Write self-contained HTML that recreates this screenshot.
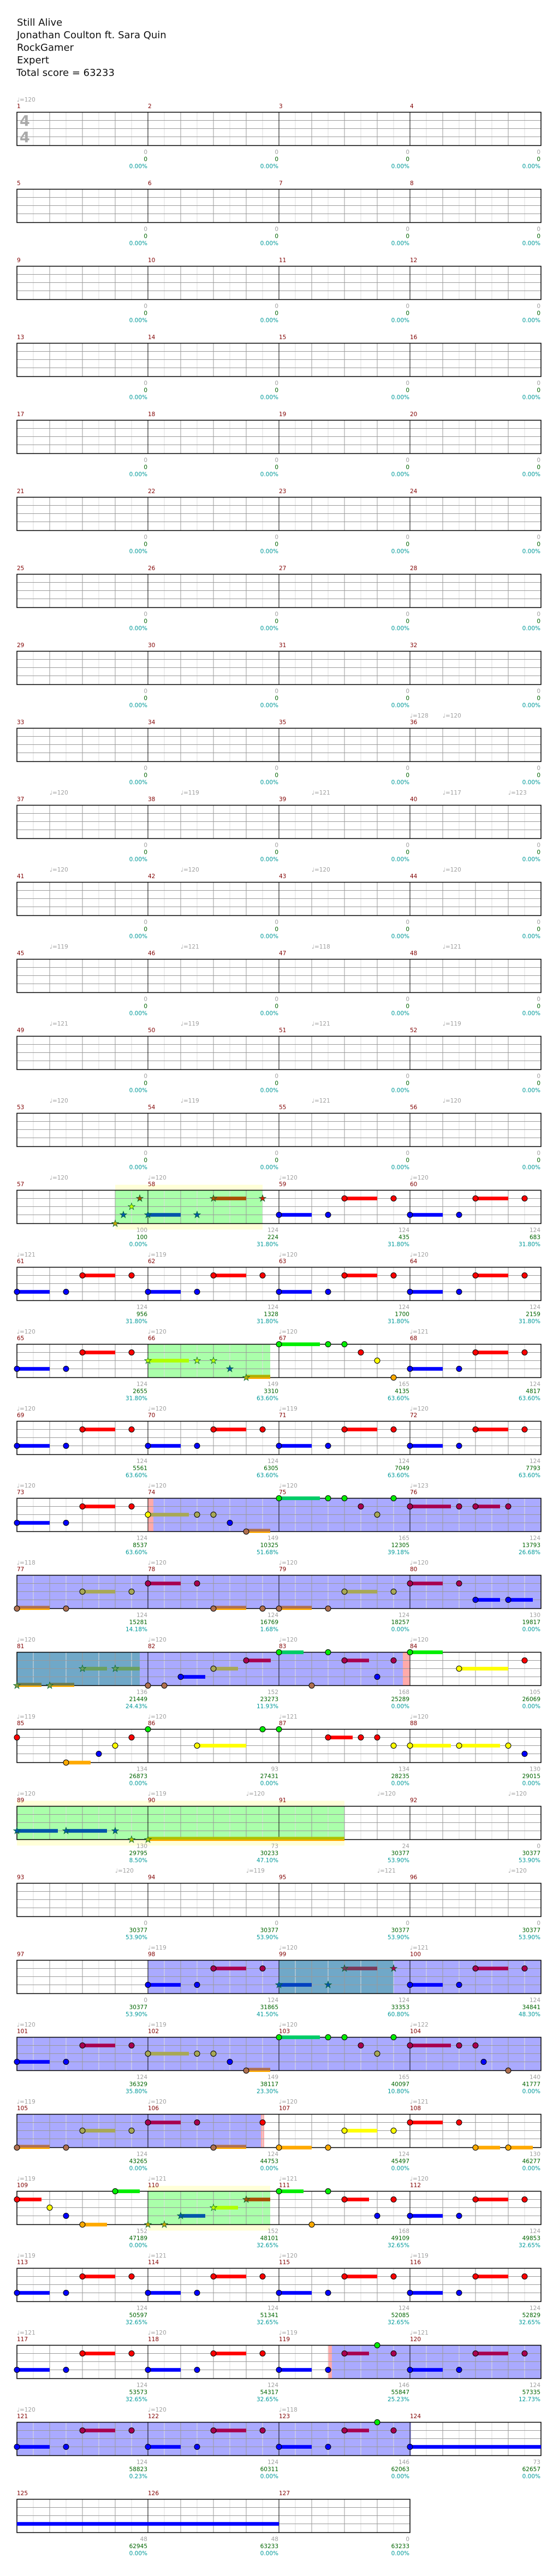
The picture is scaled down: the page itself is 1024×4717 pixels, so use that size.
<!DOCTYPE html>
<html><head><meta charset="utf-8"><style>
html,body{margin:0;padding:0;background:#fff}
svg{display:block}
text{font-family:"DejaVu Sans","Liberation Sans",sans-serif;font-size:10.5px}
.h{font-size:18px;fill:#111}
.t{fill:#a0a0a0}
.m{fill:#800000}
.n{fill:#a0a0a0;text-anchor:end}
.s{fill:#006400}
.p{fill:#009999}
circle{stroke:#000;stroke-width:1}
.R{fill:#f00}.B{fill:#00f}.G{fill:#0e0}.Y{fill:#ff0}.O{fill:#fa0}
.r{fill:#a8004f}.y{fill:#a8a855}.o{fill:#b07050}
.st{stroke:#063;stroke-width:.8}
</style></head><body>
<svg xmlns="http://www.w3.org/2000/svg" xmlns:xlink="http://www.w3.org/1999/xlink" width="1024" height="4717" viewBox="0 0 1024 4717">
<defs>
<path id="st" d="M0,-6.5L1.53,-2.1L6.18,-2.01L2.47,0.8L3.82,5.26L0,2.6L-3.82,5.26L-2.47,0.8L-6.18,-2.01L-1.53,-2.1Z"/>
<g id="grid">
<path d="M61 0V61M121 0V61M181 0V61M241 0V61M301 0V61M361 0V61M421 0V61M481 0V61M541 0V61M601 0V61M661 0V61M721 0V61M781 0V61M841 0V61M901 0V61M961 0V61" stroke="#ddd" stroke-width="1"/>
<path d="M91 0V61M151 0V61M211 0V61M331 0V61M391 0V61M451 0V61M571 0V61M631 0V61M691 0V61M811 0V61M871 0V61M931 0V61M31 15H991M31 30H991M31 45H991" stroke="#999" stroke-width="1"/>
<path d="M271 0V61M511 0V61M751 0V61" stroke="#000" stroke-width="1"/>
<rect x="31" y="0" width="960" height="61" fill="none" stroke="#000" stroke-width="1.5"/>
</g>
<g id="grid3">
<path d="M61 0V61M121 0V61M181 0V61M241 0V61M301 0V61M361 0V61M421 0V61M481 0V61M541 0V61M601 0V61M661 0V61M721 0V61" stroke="#ddd" stroke-width="1"/>
<path d="M91 0V61M151 0V61M211 0V61M331 0V61M391 0V61M451 0V61M571 0V61M631 0V61M691 0V61M31 15H751M31 30H751M31 45H751" stroke="#999" stroke-width="1"/>
<path d="M271 0V61M511 0V61" stroke="#000" stroke-width="1"/>
<rect x="31" y="0" width="720" height="61" fill="none" stroke="#000" stroke-width="1.5"/>
</g>
<g id="P"><rect x="120" y="11.7" width="60" height="6.7" fill="#f00"/><rect x="0" y="41.7" width="60" height="6.7" fill="#00f"/><circle cx="120" cy="15" r="5" class="R"/><circle cx="210" cy="15" r="5" class="R"/><circle cx="0" cy="45" r="5" class="B"/><circle cx="90" cy="45" r="5" class="B"/></g>
<g id="PO"><rect x="120" y="11.7" width="60" height="6.7" fill="#a8004f"/><rect x="0" y="41.7" width="60" height="6.7" fill="#00f"/><circle cx="120" cy="15" r="5" class="r"/><circle cx="210" cy="15" r="5" class="r"/><circle cx="0" cy="45" r="5" class="B"/><circle cx="90" cy="45" r="5" class="B"/></g>
</defs>

<text class="h" x="31" y="47">Still Alive</text>
<text class="h" x="31" y="70">Jonathan Coulton ft. Sara Quin</text>
<text class="h" x="31" y="93">RockGamer</text>
<text class="h" x="31" y="116">Expert</text>
<text class="h" x="30" y="139">Total score = 63233</text>

<!-- Row 1 -->
<g transform="translate(0,205.5)"><use xlink:href="#grid"/>
<text x="36" y="25" style="font-size:27px;font-weight:bold;fill:#aaa">4</text><text x="36" y="55" style="font-size:27px;font-weight:bold;fill:#aaa">4</text>
<text class="t" x="31" y="-19.5">♩=120</text>
<text class="m" x="31" y="-7.5">1</text><text class="m" x="271" y="-7.5">2</text><text class="m" x="511" y="-7.5">3</text><text class="m" x="751" y="-7.5">4</text>
<text class="n" x="270" y="76.5">0<tspan class="s" x="270" y="89.5">0</tspan><tspan class="p" x="270" y="102.5">0.00%</tspan></text>
<text class="n" x="510" y="76.5">0<tspan class="s" x="510" y="89.5">0</tspan><tspan class="p" x="510" y="102.5">0.00%</tspan></text>
<text class="n" x="750" y="76.5">0<tspan class="s" x="750" y="89.5">0</tspan><tspan class="p" x="750" y="102.5">0.00%</tspan></text>
<text class="n" x="990" y="76.5">0<tspan class="s" x="990" y="89.5">0</tspan><tspan class="p" x="990" y="102.5">0.00%</tspan></text>
</g>

<!-- Rows 2-8 empty -->
<g transform="translate(0,346.5)"><use xlink:href="#grid"/>
<text class="m" x="31" y="-7.5">5</text><text class="m" x="271" y="-7.5">6</text><text class="m" x="511" y="-7.5">7</text><text class="m" x="751" y="-7.5">8</text>
<text class="n" x="270" y="76.5">0<tspan class="s" x="270" y="89.5">0</tspan><tspan class="p" x="270" y="102.5">0.00%</tspan></text>
<text class="n" x="510" y="76.5">0<tspan class="s" x="510" y="89.5">0</tspan><tspan class="p" x="510" y="102.5">0.00%</tspan></text>
<text class="n" x="750" y="76.5">0<tspan class="s" x="750" y="89.5">0</tspan><tspan class="p" x="750" y="102.5">0.00%</tspan></text>
<text class="n" x="990" y="76.5">0<tspan class="s" x="990" y="89.5">0</tspan><tspan class="p" x="990" y="102.5">0.00%</tspan></text>
</g>
<g transform="translate(0,487.5)"><use xlink:href="#grid"/>
<text class="m" x="31" y="-7.5">9</text><text class="m" x="271" y="-7.5">10</text><text class="m" x="511" y="-7.5">11</text><text class="m" x="751" y="-7.5">12</text>
<text class="n" x="270" y="76.5">0<tspan class="s" x="270" y="89.5">0</tspan><tspan class="p" x="270" y="102.5">0.00%</tspan></text>
<text class="n" x="510" y="76.5">0<tspan class="s" x="510" y="89.5">0</tspan><tspan class="p" x="510" y="102.5">0.00%</tspan></text>
<text class="n" x="750" y="76.5">0<tspan class="s" x="750" y="89.5">0</tspan><tspan class="p" x="750" y="102.5">0.00%</tspan></text>
<text class="n" x="990" y="76.5">0<tspan class="s" x="990" y="89.5">0</tspan><tspan class="p" x="990" y="102.5">0.00%</tspan></text>
</g>
<g transform="translate(0,628.5)"><use xlink:href="#grid"/>
<text class="m" x="31" y="-7.5">13</text><text class="m" x="271" y="-7.5">14</text><text class="m" x="511" y="-7.5">15</text><text class="m" x="751" y="-7.5">16</text>
<text class="n" x="270" y="76.5">0<tspan class="s" x="270" y="89.5">0</tspan><tspan class="p" x="270" y="102.5">0.00%</tspan></text>
<text class="n" x="510" y="76.5">0<tspan class="s" x="510" y="89.5">0</tspan><tspan class="p" x="510" y="102.5">0.00%</tspan></text>
<text class="n" x="750" y="76.5">0<tspan class="s" x="750" y="89.5">0</tspan><tspan class="p" x="750" y="102.5">0.00%</tspan></text>
<text class="n" x="990" y="76.5">0<tspan class="s" x="990" y="89.5">0</tspan><tspan class="p" x="990" y="102.5">0.00%</tspan></text>
</g>
<g transform="translate(0,769.5)"><use xlink:href="#grid"/>
<text class="m" x="31" y="-7.5">17</text><text class="m" x="271" y="-7.5">18</text><text class="m" x="511" y="-7.5">19</text><text class="m" x="751" y="-7.5">20</text>
<text class="n" x="270" y="76.5">0<tspan class="s" x="270" y="89.5">0</tspan><tspan class="p" x="270" y="102.5">0.00%</tspan></text>
<text class="n" x="510" y="76.5">0<tspan class="s" x="510" y="89.5">0</tspan><tspan class="p" x="510" y="102.5">0.00%</tspan></text>
<text class="n" x="750" y="76.5">0<tspan class="s" x="750" y="89.5">0</tspan><tspan class="p" x="750" y="102.5">0.00%</tspan></text>
<text class="n" x="990" y="76.5">0<tspan class="s" x="990" y="89.5">0</tspan><tspan class="p" x="990" y="102.5">0.00%</tspan></text>
</g>
<g transform="translate(0,910.5)"><use xlink:href="#grid"/>
<text class="m" x="31" y="-7.5">21</text><text class="m" x="271" y="-7.5">22</text><text class="m" x="511" y="-7.5">23</text><text class="m" x="751" y="-7.5">24</text>
<text class="n" x="270" y="76.5">0<tspan class="s" x="270" y="89.5">0</tspan><tspan class="p" x="270" y="102.5">0.00%</tspan></text>
<text class="n" x="510" y="76.5">0<tspan class="s" x="510" y="89.5">0</tspan><tspan class="p" x="510" y="102.5">0.00%</tspan></text>
<text class="n" x="750" y="76.5">0<tspan class="s" x="750" y="89.5">0</tspan><tspan class="p" x="750" y="102.5">0.00%</tspan></text>
<text class="n" x="990" y="76.5">0<tspan class="s" x="990" y="89.5">0</tspan><tspan class="p" x="990" y="102.5">0.00%</tspan></text>
</g>
<g transform="translate(0,1051.5)"><use xlink:href="#grid"/>
<text class="m" x="31" y="-7.5">25</text><text class="m" x="271" y="-7.5">26</text><text class="m" x="511" y="-7.5">27</text><text class="m" x="751" y="-7.5">28</text>
<text class="n" x="270" y="76.5">0<tspan class="s" x="270" y="89.5">0</tspan><tspan class="p" x="270" y="102.5">0.00%</tspan></text>
<text class="n" x="510" y="76.5">0<tspan class="s" x="510" y="89.5">0</tspan><tspan class="p" x="510" y="102.5">0.00%</tspan></text>
<text class="n" x="750" y="76.5">0<tspan class="s" x="750" y="89.5">0</tspan><tspan class="p" x="750" y="102.5">0.00%</tspan></text>
<text class="n" x="990" y="76.5">0<tspan class="s" x="990" y="89.5">0</tspan><tspan class="p" x="990" y="102.5">0.00%</tspan></text>
</g>
<g transform="translate(0,1192.5)"><use xlink:href="#grid"/>
<text class="m" x="31" y="-7.5">29</text><text class="m" x="271" y="-7.5">30</text><text class="m" x="511" y="-7.5">31</text><text class="m" x="751" y="-7.5">32</text>
<text class="n" x="270" y="76.5">0<tspan class="s" x="270" y="89.5">0</tspan><tspan class="p" x="270" y="102.5">0.00%</tspan></text>
<text class="n" x="510" y="76.5">0<tspan class="s" x="510" y="89.5">0</tspan><tspan class="p" x="510" y="102.5">0.00%</tspan></text>
<text class="n" x="750" y="76.5">0<tspan class="s" x="750" y="89.5">0</tspan><tspan class="p" x="750" y="102.5">0.00%</tspan></text>
<text class="n" x="990" y="76.5">0<tspan class="s" x="990" y="89.5">0</tspan><tspan class="p" x="990" y="102.5">0.00%</tspan></text>
</g>
<g transform="translate(0,1333.5)"><use xlink:href="#grid"/>
<text class="t" x="751" y="-19.5">♩=128</text><text class="t" x="811" y="-19.5">♩=120</text>
<text class="m" x="31" y="-7.5">33</text><text class="m" x="271" y="-7.5">34</text><text class="m" x="511" y="-7.5">35</text><text class="m" x="751" y="-7.5">36</text>
<text class="n" x="270" y="76.5">0<tspan class="s" x="270" y="89.5">0</tspan><tspan class="p" x="270" y="102.5">0.00%</tspan></text>
<text class="n" x="510" y="76.5">0<tspan class="s" x="510" y="89.5">0</tspan><tspan class="p" x="510" y="102.5">0.00%</tspan></text>
<text class="n" x="750" y="76.5">0<tspan class="s" x="750" y="89.5">0</tspan><tspan class="p" x="750" y="102.5">0.00%</tspan></text>
<text class="n" x="990" y="76.5">0<tspan class="s" x="990" y="89.5">0</tspan><tspan class="p" x="990" y="102.5">0.00%</tspan></text>
</g>
<g transform="translate(0,1474.5)"><use xlink:href="#grid"/>
<text class="t" x="91" y="-19.5">♩=120</text><text class="t" x="331" y="-19.5">♩=119</text><text class="t" x="571" y="-19.5">♩=121</text><text class="t" x="811" y="-19.5">♩=117</text><text class="t" x="931" y="-19.5">♩=123</text>
<text class="m" x="31" y="-7.5">37</text><text class="m" x="271" y="-7.5">38</text><text class="m" x="511" y="-7.5">39</text><text class="m" x="751" y="-7.5">40</text>
<text class="n" x="270" y="76.5">0<tspan class="s" x="270" y="89.5">0</tspan><tspan class="p" x="270" y="102.5">0.00%</tspan></text>
<text class="n" x="510" y="76.5">0<tspan class="s" x="510" y="89.5">0</tspan><tspan class="p" x="510" y="102.5">0.00%</tspan></text>
<text class="n" x="750" y="76.5">0<tspan class="s" x="750" y="89.5">0</tspan><tspan class="p" x="750" y="102.5">0.00%</tspan></text>
<text class="n" x="990" y="76.5">0<tspan class="s" x="990" y="89.5">0</tspan><tspan class="p" x="990" y="102.5">0.00%</tspan></text>
</g>
<g transform="translate(0,1615.5)"><use xlink:href="#grid"/>
<text class="t" x="91" y="-19.5">♩=120</text><text class="t" x="331" y="-19.5">♩=120</text><text class="t" x="571" y="-19.5">♩=120</text><text class="t" x="811" y="-19.5">♩=120</text>
<text class="m" x="31" y="-7.5">41</text><text class="m" x="271" y="-7.5">42</text><text class="m" x="511" y="-7.5">43</text><text class="m" x="751" y="-7.5">44</text>
<text class="n" x="270" y="76.5">0<tspan class="s" x="270" y="89.5">0</tspan><tspan class="p" x="270" y="102.5">0.00%</tspan></text>
<text class="n" x="510" y="76.5">0<tspan class="s" x="510" y="89.5">0</tspan><tspan class="p" x="510" y="102.5">0.00%</tspan></text>
<text class="n" x="750" y="76.5">0<tspan class="s" x="750" y="89.5">0</tspan><tspan class="p" x="750" y="102.5">0.00%</tspan></text>
<text class="n" x="990" y="76.5">0<tspan class="s" x="990" y="89.5">0</tspan><tspan class="p" x="990" y="102.5">0.00%</tspan></text>
</g>
<g transform="translate(0,1756.5)"><use xlink:href="#grid"/>
<text class="t" x="91" y="-19.5">♩=119</text><text class="t" x="331" y="-19.5">♩=121</text><text class="t" x="571" y="-19.5">♩=118</text><text class="t" x="811" y="-19.5">♩=121</text>
<text class="m" x="31" y="-7.5">45</text><text class="m" x="271" y="-7.5">46</text><text class="m" x="511" y="-7.5">47</text><text class="m" x="751" y="-7.5">48</text>
<text class="n" x="270" y="76.5">0<tspan class="s" x="270" y="89.5">0</tspan><tspan class="p" x="270" y="102.5">0.00%</tspan></text>
<text class="n" x="510" y="76.5">0<tspan class="s" x="510" y="89.5">0</tspan><tspan class="p" x="510" y="102.5">0.00%</tspan></text>
<text class="n" x="750" y="76.5">0<tspan class="s" x="750" y="89.5">0</tspan><tspan class="p" x="750" y="102.5">0.00%</tspan></text>
<text class="n" x="990" y="76.5">0<tspan class="s" x="990" y="89.5">0</tspan><tspan class="p" x="990" y="102.5">0.00%</tspan></text>
</g>
<g transform="translate(0,1897.5)"><use xlink:href="#grid"/>
<text class="t" x="91" y="-19.5">♩=121</text><text class="t" x="331" y="-19.5">♩=119</text><text class="t" x="571" y="-19.5">♩=121</text><text class="t" x="811" y="-19.5">♩=119</text>
<text class="m" x="31" y="-7.5">49</text><text class="m" x="271" y="-7.5">50</text><text class="m" x="511" y="-7.5">51</text><text class="m" x="751" y="-7.5">52</text>
<text class="n" x="270" y="76.5">0<tspan class="s" x="270" y="89.5">0</tspan><tspan class="p" x="270" y="102.5">0.00%</tspan></text>
<text class="n" x="510" y="76.5">0<tspan class="s" x="510" y="89.5">0</tspan><tspan class="p" x="510" y="102.5">0.00%</tspan></text>
<text class="n" x="750" y="76.5">0<tspan class="s" x="750" y="89.5">0</tspan><tspan class="p" x="750" y="102.5">0.00%</tspan></text>
<text class="n" x="990" y="76.5">0<tspan class="s" x="990" y="89.5">0</tspan><tspan class="p" x="990" y="102.5">0.00%</tspan></text>
</g>
<g transform="translate(0,2038.5)"><use xlink:href="#grid"/>
<text class="t" x="91" y="-19.5">♩=120</text><text class="t" x="331" y="-19.5">♩=119</text><text class="t" x="571" y="-19.5">♩=121</text><text class="t" x="811" y="-19.5">♩=120</text>
<text class="m" x="31" y="-7.5">53</text><text class="m" x="271" y="-7.5">54</text><text class="m" x="511" y="-7.5">55</text><text class="m" x="751" y="-7.5">56</text>
<text class="n" x="270" y="76.5">0<tspan class="s" x="270" y="89.5">0</tspan><tspan class="p" x="270" y="102.5">0.00%</tspan></text>
<text class="n" x="510" y="76.5">0<tspan class="s" x="510" y="89.5">0</tspan><tspan class="p" x="510" y="102.5">0.00%</tspan></text>
<text class="n" x="750" y="76.5">0<tspan class="s" x="750" y="89.5">0</tspan><tspan class="p" x="750" y="102.5">0.00%</tspan></text>
<text class="n" x="990" y="76.5">0<tspan class="s" x="990" y="89.5">0</tspan><tspan class="p" x="990" y="102.5">0.00%</tspan></text>
</g>

<!-- Row 57 -->
<g transform="translate(0,2179.5)">
<rect x="211" y="-10" width="270" height="82" fill="#ffffd8"/><rect x="211" y="0" width="270" height="61" fill="#aaffaa"/>
<use xlink:href="#grid"/>
<rect x="271" y="41.7" width="60" height="6.7" fill="#0055aa"/><rect x="391" y="11.7" width="60" height="6.7" fill="#a85000"/>
<use xlink:href="#st" class="st" x="211" y="61" fill="#c8a000"/><use xlink:href="#st" class="st" x="226" y="45" fill="#0055aa"/><use xlink:href="#st" class="st" x="241" y="30" fill="#c0ff00"/><use xlink:href="#st" class="st" x="256" y="15" fill="#a85000"/>
<use xlink:href="#st" class="st" x="271" y="45" fill="#0055aa"/><use xlink:href="#st" class="st" x="361" y="45" fill="#0055aa"/><use xlink:href="#st" class="st" x="391" y="15" fill="#a85000"/><use xlink:href="#st" class="st" x="481" y="15" fill="#d02000"/>
<use xlink:href="#P" x="511"/><use xlink:href="#P" x="751"/>
<text class="t" x="91" y="-19.5">♩=120</text><text class="t" x="271" y="-19.5">♩=120</text><text class="t" x="511" y="-19.5">♩=120</text><text class="t" x="751" y="-19.5">♩=120</text>
<text class="m" x="31" y="-7.5">57</text><text class="m" x="271" y="-7.5">58</text><text class="m" x="511" y="-7.5">59</text><text class="m" x="751" y="-7.5">60</text>
<text class="n" x="270" y="76.5">100<tspan class="s" x="270" y="89.5">100</tspan><tspan class="p" x="270" y="102.5">0.00%</tspan></text>
<text class="n" x="510" y="76.5">124<tspan class="s" x="510" y="89.5">224</tspan><tspan class="p" x="510" y="102.5">31.80%</tspan></text>
<text class="n" x="750" y="76.5">124<tspan class="s" x="750" y="89.5">435</tspan><tspan class="p" x="750" y="102.5">31.80%</tspan></text>
<text class="n" x="990" y="76.5">124<tspan class="s" x="990" y="89.5">683</tspan><tspan class="p" x="990" y="102.5">31.80%</tspan></text>
</g>

<!-- Row 61 -->
<g transform="translate(0,2320.5)"><use xlink:href="#grid"/>
<use xlink:href="#P" x="31"/><use xlink:href="#P" x="271"/><use xlink:href="#P" x="511"/><use xlink:href="#P" x="751"/>
<text class="t" x="31" y="-19.5">♩=121</text><text class="t" x="271" y="-19.5">♩=119</text><text class="t" x="511" y="-19.5">♩=120</text><text class="t" x="751" y="-19.5">♩=120</text>
<text class="m" x="31" y="-7.5">61</text><text class="m" x="271" y="-7.5">62</text><text class="m" x="511" y="-7.5">63</text><text class="m" x="751" y="-7.5">64</text>
<text class="n" x="270" y="76.5">124<tspan class="s" x="270" y="89.5">956</tspan><tspan class="p" x="270" y="102.5">31.80%</tspan></text>
<text class="n" x="510" y="76.5">124<tspan class="s" x="510" y="89.5">1328</tspan><tspan class="p" x="510" y="102.5">31.80%</tspan></text>
<text class="n" x="750" y="76.5">124<tspan class="s" x="750" y="89.5">1700</tspan><tspan class="p" x="750" y="102.5">31.80%</tspan></text>
<text class="n" x="990" y="76.5">124<tspan class="s" x="990" y="89.5">2159</tspan><tspan class="p" x="990" y="102.5">31.80%</tspan></text>
</g>

<!-- Row 65 -->
<g transform="translate(0,2461.5)">
<rect x="271" y="0" width="224" height="61" fill="#aaffaa"/>
<use xlink:href="#grid"/>
<use xlink:href="#P" x="31"/>
<rect x="271" y="26.7" width="75" height="6.7" fill="#b0ff00"/><rect x="451" y="56" width="44" height="5" fill="#b0b000"/><rect x="451" y="61" width="44" height="2.5" fill="#fa0"/>
<use xlink:href="#st" class="st" x="271" y="30" fill="#c0ff00"/><use xlink:href="#st" class="st" x="361" y="30" fill="#c0ff00"/><use xlink:href="#st" class="st" x="391" y="30" fill="#c0ff00"/><use xlink:href="#st" class="st" x="421" y="45" fill="#0055aa"/><use xlink:href="#st" class="st" x="451" y="61" fill="#b0b000"/>
<rect x="511" y="-3.3" width="75" height="6.7" fill="#0e0"/>
<circle cx="511" cy="0" r="5" class="G"/><circle cx="601" cy="0" r="5" class="G"/><circle cx="631" cy="0" r="5" class="G"/><circle cx="661" cy="15" r="5" class="R"/><circle cx="691" cy="30" r="5" class="Y"/><circle cx="721" cy="61" r="5" class="O"/>
<use xlink:href="#P" x="751"/>
<text class="t" x="31" y="-19.5">♩=120</text><text class="t" x="271" y="-19.5">♩=120</text><text class="t" x="511" y="-19.5">♩=120</text><text class="t" x="751" y="-19.5">♩=121</text>
<text class="m" x="31" y="-7.5">65</text><text class="m" x="271" y="-7.5">66</text><text class="m" x="511" y="-7.5">67</text><text class="m" x="751" y="-7.5">68</text>
<text class="n" x="270" y="76.5">124<tspan class="s" x="270" y="89.5">2655</tspan><tspan class="p" x="270" y="102.5">31.80%</tspan></text>
<text class="n" x="510" y="76.5">149<tspan class="s" x="510" y="89.5">3310</tspan><tspan class="p" x="510" y="102.5">63.60%</tspan></text>
<text class="n" x="750" y="76.5">165<tspan class="s" x="750" y="89.5">4135</tspan><tspan class="p" x="750" y="102.5">63.60%</tspan></text>
<text class="n" x="990" y="76.5">124<tspan class="s" x="990" y="89.5">4817</tspan><tspan class="p" x="990" y="102.5">63.60%</tspan></text>
</g>

<!-- Row 69 -->
<g transform="translate(0,2602.5)"><use xlink:href="#grid"/>
<use xlink:href="#P" x="31"/><use xlink:href="#P" x="271"/><use xlink:href="#P" x="511"/><use xlink:href="#P" x="751"/>
<text class="t" x="31" y="-19.5">♩=120</text><text class="t" x="271" y="-19.5">♩=120</text><text class="t" x="511" y="-19.5">♩=119</text><text class="t" x="751" y="-19.5">♩=120</text>
<text class="m" x="31" y="-7.5">69</text><text class="m" x="271" y="-7.5">70</text><text class="m" x="511" y="-7.5">71</text><text class="m" x="751" y="-7.5">72</text>
<text class="n" x="270" y="76.5">124<tspan class="s" x="270" y="89.5">5561</tspan><tspan class="p" x="270" y="102.5">63.60%</tspan></text>
<text class="n" x="510" y="76.5">124<tspan class="s" x="510" y="89.5">6305</tspan><tspan class="p" x="510" y="102.5">63.60%</tspan></text>
<text class="n" x="750" y="76.5">124<tspan class="s" x="750" y="89.5">7049</tspan><tspan class="p" x="750" y="102.5">63.60%</tspan></text>
<text class="n" x="990" y="76.5">124<tspan class="s" x="990" y="89.5">7793</tspan><tspan class="p" x="990" y="102.5">63.60%</tspan></text>
</g>

<!-- Row 73 -->
<g transform="translate(0,2743.5)">
<rect x="271" y="0" width="720" height="61" fill="#aaaaff"/><rect x="271" y="0" width="10" height="61" fill="#ffaaaa"/>
<use xlink:href="#grid"/>
<use xlink:href="#P" x="31"/>
<rect x="271" y="26.7" width="75" height="6.7" fill="#a8a855"/><rect x="451" y="56" width="44" height="5" fill="#b07050"/><rect x="451" y="61" width="44" height="2.5" fill="#fa0"/>
<circle cx="271" cy="30" r="5" class="Y"/><circle cx="361" cy="30" r="5" class="y"/><circle cx="391" cy="30" r="5" class="y"/><circle cx="421" cy="45" r="5" class="B"/><circle cx="451" cy="61" r="5" class="o"/>
<rect x="511" y="-3.3" width="75" height="6.7" fill="#0c6"/>
<circle cx="511" cy="0" r="5" class="G"/><circle cx="601" cy="0" r="5" class="G"/><circle cx="631" cy="0" r="5" class="G"/><circle cx="661" cy="15" r="5" class="r"/><circle cx="691" cy="30" r="5" class="y"/><circle cx="721" cy="0" r="5" class="G"/>
<rect x="751" y="11.7" width="75" height="6.7" fill="#a8004f"/><rect x="871" y="11.7" width="45" height="6.7" fill="#a8004f"/>
<circle cx="751" cy="15" r="5" class="r"/><circle cx="841" cy="15" r="5" class="r"/><circle cx="871" cy="15" r="5" class="r"/><circle cx="931" cy="15" r="5" class="r"/>
<text class="t" x="31" y="-19.5">♩=120</text><text class="t" x="271" y="-19.5">♩=120</text><text class="t" x="511" y="-19.5">♩=120</text><text class="t" x="751" y="-19.5">♩=123</text>
<text class="m" x="31" y="-7.5">73</text><text class="m" x="271" y="-7.5">74</text><text class="m" x="511" y="-7.5">75</text><text class="m" x="751" y="-7.5">76</text>
<text class="n" x="270" y="76.5">124<tspan class="s" x="270" y="89.5">8537</tspan><tspan class="p" x="270" y="102.5">63.60%</tspan></text>
<text class="n" x="510" y="76.5">149<tspan class="s" x="510" y="89.5">10325</tspan><tspan class="p" x="510" y="102.5">51.68%</tspan></text>
<text class="n" x="750" y="76.5">165<tspan class="s" x="750" y="89.5">12305</tspan><tspan class="p" x="750" y="102.5">39.18%</tspan></text>
<text class="n" x="990" y="76.5">124<tspan class="s" x="990" y="89.5">13793</tspan><tspan class="p" x="990" y="102.5">26.68%</tspan></text>
</g>

<!-- Row 77 -->
<g transform="translate(0,2884.5)">
<rect x="31" y="0" width="960" height="61" fill="#aaaaff"/>
<use xlink:href="#grid"/>
<rect x="31" y="56" width="60" height="5" fill="#b07050"/><rect x="31" y="61" width="60" height="2.5" fill="#fa0"/>
<rect x="151" y="26.7" width="60" height="6.7" fill="#a8a855"/>
<circle cx="31" cy="61" r="5" class="o"/><circle cx="121" cy="61" r="5" class="o"/><circle cx="151" cy="30" r="5" class="y"/><circle cx="241" cy="30" r="5" class="y"/>
<rect x="271" y="11.7" width="60" height="6.7" fill="#a8004f"/><rect x="391" y="56" width="60" height="5" fill="#b07050"/><rect x="391" y="61" width="60" height="2.5" fill="#fa0"/>
<circle cx="271" cy="15" r="5" class="r"/><circle cx="361" cy="15" r="5" class="r"/><circle cx="391" cy="61" r="5" class="o"/><circle cx="481" cy="61" r="5" class="o"/>
<rect x="511" y="56" width="60" height="5" fill="#b07050"/><rect x="511" y="61" width="60" height="2.5" fill="#fa0"/><rect x="631" y="26.7" width="60" height="6.7" fill="#a8a855"/>
<circle cx="511" cy="61" r="5" class="o"/><circle cx="601" cy="61" r="5" class="o"/><circle cx="631" cy="30" r="5" class="y"/><circle cx="721" cy="30" r="5" class="y"/>
<rect x="751" y="11.7" width="60" height="6.7" fill="#a8004f"/><rect x="871" y="41.7" width="45" height="6.7" fill="#00f"/><rect x="931" y="41.7" width="45" height="6.7" fill="#00f"/>
<circle cx="751" cy="15" r="5" class="r"/><circle cx="841" cy="15" r="5" class="r"/><circle cx="871" cy="45" r="5" class="B"/><circle cx="931" cy="45" r="5" class="B"/>
<text class="t" x="31" y="-19.5">♩=118</text><text class="t" x="271" y="-19.5">♩=120</text><text class="t" x="511" y="-19.5">♩=120</text><text class="t" x="751" y="-19.5">♩=120</text>
<text class="m" x="31" y="-7.5">77</text><text class="m" x="271" y="-7.5">78</text><text class="m" x="511" y="-7.5">79</text><text class="m" x="751" y="-7.5">80</text>
<text class="n" x="270" y="76.5">124<tspan class="s" x="270" y="89.5">15281</tspan><tspan class="p" x="270" y="102.5">14.18%</tspan></text>
<text class="n" x="510" y="76.5">124<tspan class="s" x="510" y="89.5">16769</tspan><tspan class="p" x="510" y="102.5">1.68%</tspan></text>
<text class="n" x="750" y="76.5">124<tspan class="s" x="750" y="89.5">18257</tspan><tspan class="p" x="750" y="102.5">0.00%</tspan></text>
<text class="n" x="990" y="76.5">130<tspan class="s" x="990" y="89.5">19817</tspan><tspan class="p" x="990" y="102.5">0.00%</tspan></text>
</g>

<!-- Row 81 -->
<g transform="translate(0,3025.5)">
<rect x="31" y="0" width="225" height="61" fill="#70a8c8"/><rect x="256" y="0" width="482" height="61" fill="#aaaaff"/><rect x="738" y="0" width="13" height="61" fill="#ffaaaa"/>
<use xlink:href="#grid"/>
<rect x="31" y="56" width="45" height="5" fill="#6a7a50"/><rect x="31" y="61" width="45" height="2.5" fill="#fa0"/><rect x="91" y="56" width="45" height="5" fill="#6a7a50"/><rect x="91" y="61" width="45" height="2.5" fill="#fa0"/>
<rect x="151" y="26.7" width="45" height="6.7" fill="#6aa060"/><rect x="211" y="26.7" width="45" height="6.7" fill="#6aa060"/>
<use xlink:href="#st" class="st" x="31" y="61" fill="#8a9a40"/><use xlink:href="#st" class="st" x="91" y="61" fill="#8a9a40"/><use xlink:href="#st" class="st" x="151" y="30" fill="#6aa060"/><use xlink:href="#st" class="st" x="211" y="30" fill="#6aa060"/>
<rect x="331" y="41.7" width="45" height="6.7" fill="#00f"/><rect x="391" y="26.7" width="45" height="6.7" fill="#a8a855"/><rect x="451" y="11.7" width="45" height="6.7" fill="#a8004f"/>
<circle cx="271" cy="61" r="5" class="o"/><circle cx="301" cy="61" r="5" class="o"/><circle cx="331" cy="45" r="5" class="B"/><circle cx="391" cy="30" r="5" class="y"/><circle cx="451" cy="15" r="5" class="r"/>
<rect x="511" y="-3.3" width="45" height="6.7" fill="#0c6"/><rect x="631" y="11.7" width="45" height="6.7" fill="#a8004f"/>
<circle cx="511" cy="0" r="5" class="G"/><circle cx="571" cy="61" r="5" class="o"/><circle cx="601" cy="0" r="5" class="G"/><circle cx="631" cy="15" r="5" class="r"/><circle cx="691" cy="45" r="5" class="B"/><circle cx="721" cy="15" r="5" class="r"/>
<rect x="751" y="-3.3" width="60" height="6.7" fill="#0e0"/><rect x="841" y="26.7" width="90" height="6.7" fill="#ff0"/>
<circle cx="751" cy="0" r="5" class="G"/><circle cx="841" cy="30" r="5" class="Y"/><circle cx="961" cy="15" r="5" class="R"/>
<text class="t" x="31" y="-19.5">♩=120</text><text class="t" x="271" y="-19.5">♩=120</text><text class="t" x="511" y="-19.5">♩=120</text><text class="t" x="751" y="-19.5">♩=120</text>
<text class="m" x="31" y="-7.5">81</text><text class="m" x="271" y="-7.5">82</text><text class="m" x="511" y="-7.5">83</text><text class="m" x="751" y="-7.5">84</text>
<text class="n" x="270" y="76.5">136<tspan class="s" x="270" y="89.5">21449</tspan><tspan class="p" x="270" y="102.5">24.43%</tspan></text>
<text class="n" x="510" y="76.5">152<tspan class="s" x="510" y="89.5">23273</tspan><tspan class="p" x="510" y="102.5">11.93%</tspan></text>
<text class="n" x="750" y="76.5">168<tspan class="s" x="750" y="89.5">25289</tspan><tspan class="p" x="750" y="102.5">0.00%</tspan></text>
<text class="n" x="990" y="76.5">105<tspan class="s" x="990" y="89.5">26069</tspan><tspan class="p" x="990" y="102.5">0.00%</tspan></text>
</g>

<!-- Row 85 -->
<g transform="translate(0,3166.5)"><use xlink:href="#grid"/>
<rect x="121" y="57.7" width="45" height="6.7" fill="#fa0"/>
<circle cx="31" cy="15" r="5" class="R"/><circle cx="121" cy="61" r="5" class="O"/><circle cx="181" cy="45" r="5" class="B"/><circle cx="211" cy="30" r="5" class="Y"/><circle cx="241" cy="15" r="5" class="R"/>
<rect x="361" y="26.7" width="90" height="6.7" fill="#ff0"/>
<circle cx="271" cy="0" r="5" class="G"/><circle cx="361" cy="30" r="5" class="Y"/><circle cx="481" cy="0" r="5" class="G"/>
<rect x="601" y="11.7" width="45" height="6.7" fill="#f00"/>
<circle cx="511" cy="0" r="5" class="G"/><circle cx="601" cy="15" r="5" class="R"/><circle cx="661" cy="15" r="5" class="R"/><circle cx="691" cy="15" r="5" class="R"/><circle cx="721" cy="30" r="5" class="Y"/>
<rect x="751" y="26.7" width="75" height="6.7" fill="#ff0"/><rect x="841" y="26.7" width="75" height="6.7" fill="#ff0"/>
<circle cx="751" cy="30" r="5" class="Y"/><circle cx="841" cy="30" r="5" class="Y"/><circle cx="931" cy="30" r="5" class="Y"/><circle cx="961" cy="45" r="5" class="B"/>
<text class="t" x="31" y="-19.5">♩=119</text><text class="t" x="271" y="-19.5">♩=120</text><text class="t" x="511" y="-19.5">♩=121</text><text class="t" x="751" y="-19.5">♩=120</text>
<text class="m" x="31" y="-7.5">85</text><text class="m" x="271" y="-7.5">86</text><text class="m" x="511" y="-7.5">87</text><text class="m" x="751" y="-7.5">88</text>
<text class="n" x="270" y="76.5">134<tspan class="s" x="270" y="89.5">26873</tspan><tspan class="p" x="270" y="102.5">0.00%</tspan></text>
<text class="n" x="510" y="76.5">93<tspan class="s" x="510" y="89.5">27431</tspan><tspan class="p" x="510" y="102.5">0.00%</tspan></text>
<text class="n" x="750" y="76.5">134<tspan class="s" x="750" y="89.5">28235</tspan><tspan class="p" x="750" y="102.5">0.00%</tspan></text>
<text class="n" x="990" y="76.5">130<tspan class="s" x="990" y="89.5">29015</tspan><tspan class="p" x="990" y="102.5">0.00%</tspan></text>
</g>

<!-- Row 89 -->
<g transform="translate(0,3307.5)">
<rect x="31" y="-10" width="600" height="82" fill="#ffffd8"/><rect x="31" y="0" width="600" height="61" fill="#aaffaa"/>
<use xlink:href="#grid"/>
<rect x="31" y="41.7" width="75" height="6.7" fill="#0055aa"/><rect x="121" y="41.7" width="75" height="6.7" fill="#0055aa"/>
<rect x="271" y="56" width="360" height="5" fill="#b0c000"/><rect x="271" y="61" width="360" height="2.5" fill="#fa0"/>
<use xlink:href="#st" class="st" x="31" y="45" fill="#0055aa"/><use xlink:href="#st" class="st" x="121" y="45" fill="#0055aa"/><use xlink:href="#st" class="st" x="211" y="45" fill="#0055aa"/><use xlink:href="#st" class="st" x="241" y="61" fill="#b0c000"/><use xlink:href="#st" class="st" x="271" y="61" fill="#b0c000"/>
<text class="t" x="31" y="-19.5">♩=120</text><text class="t" x="271" y="-19.5">♩=119</text><text class="t" x="451" y="-19.5">♩=120</text><text class="t" x="691" y="-19.5">♩=120</text><text class="t" x="931" y="-19.5">♩=120</text>
<text class="m" x="31" y="-7.5">89</text><text class="m" x="271" y="-7.5">90</text><text class="m" x="511" y="-7.5">91</text><text class="m" x="751" y="-7.5">92</text>
<text class="n" x="270" y="76.5">130<tspan class="s" x="270" y="89.5">29795</tspan><tspan class="p" x="270" y="102.5">8.50%</tspan></text>
<text class="n" x="510" y="76.5">73<tspan class="s" x="510" y="89.5">30233</tspan><tspan class="p" x="510" y="102.5">47.10%</tspan></text>
<text class="n" x="750" y="76.5">24<tspan class="s" x="750" y="89.5">30377</tspan><tspan class="p" x="750" y="102.5">53.90%</tspan></text>
<text class="n" x="990" y="76.5">0<tspan class="s" x="990" y="89.5">30377</tspan><tspan class="p" x="990" y="102.5">53.90%</tspan></text>
</g>

<!-- Row 93 -->
<g transform="translate(0,3448.5)"><use xlink:href="#grid"/>
<text class="t" x="211" y="-19.5">♩=120</text><text class="t" x="451" y="-19.5">♩=119</text><text class="t" x="691" y="-19.5">♩=121</text><text class="t" x="931" y="-19.5">♩=120</text>
<text class="m" x="31" y="-7.5">93</text><text class="m" x="271" y="-7.5">94</text><text class="m" x="511" y="-7.5">95</text><text class="m" x="751" y="-7.5">96</text>
<text class="n" x="270" y="76.5">0<tspan class="s" x="270" y="89.5">30377</tspan><tspan class="p" x="270" y="102.5">53.90%</tspan></text>
<text class="n" x="510" y="76.5">0<tspan class="s" x="510" y="89.5">30377</tspan><tspan class="p" x="510" y="102.5">53.90%</tspan></text>
<text class="n" x="750" y="76.5">0<tspan class="s" x="750" y="89.5">30377</tspan><tspan class="p" x="750" y="102.5">53.90%</tspan></text>
<text class="n" x="990" y="76.5">0<tspan class="s" x="990" y="89.5">30377</tspan><tspan class="p" x="990" y="102.5">53.90%</tspan></text>
</g>

<!-- Row 97 -->
<g transform="translate(0,3589.5)">
<rect x="271" y="0" width="720" height="61" fill="#aaaaff"/><rect x="511" y="0" width="210" height="61" fill="#70a8c8"/>
<use xlink:href="#grid"/>
<use xlink:href="#PO" x="271"/>
<rect x="511" y="41.7" width="60" height="6.7" fill="#0040c0"/><rect x="631" y="11.7" width="60" height="6.7" fill="#7a3a5a"/>
<use xlink:href="#st" class="st" x="511" y="45" fill="#0050b0"/><use xlink:href="#st" class="st" x="601" y="45" fill="#0050b0"/><use xlink:href="#st" class="st" x="631" y="15" fill="#7a3a5a"/><use xlink:href="#st" class="st" x="721" y="15" fill="#a8004f"/>
<use xlink:href="#PO" x="751"/>
<text class="t" x="271" y="-19.5">♩=119</text><text class="t" x="511" y="-19.5">♩=120</text><text class="t" x="751" y="-19.5">♩=121</text>
<text class="m" x="31" y="-7.5">97</text><text class="m" x="271" y="-7.5">98</text><text class="m" x="511" y="-7.5">99</text><text class="m" x="751" y="-7.5">100</text>
<text class="n" x="270" y="76.5">0<tspan class="s" x="270" y="89.5">30377</tspan><tspan class="p" x="270" y="102.5">53.90%</tspan></text>
<text class="n" x="510" y="76.5">124<tspan class="s" x="510" y="89.5">31865</tspan><tspan class="p" x="510" y="102.5">41.50%</tspan></text>
<text class="n" x="750" y="76.5">124<tspan class="s" x="750" y="89.5">33353</tspan><tspan class="p" x="750" y="102.5">60.80%</tspan></text>
<text class="n" x="990" y="76.5">124<tspan class="s" x="990" y="89.5">34841</tspan><tspan class="p" x="990" y="102.5">48.30%</tspan></text>
</g>

<!-- Row 101 -->
<g transform="translate(0,3730.5)">
<rect x="31" y="0" width="960" height="61" fill="#aaaaff"/>
<use xlink:href="#grid"/>
<use xlink:href="#PO" x="31"/>
<rect x="271" y="26.7" width="75" height="6.7" fill="#a8a855"/><rect x="451" y="56" width="44" height="5" fill="#b07050"/><rect x="451" y="61" width="44" height="2.5" fill="#fa0"/>
<circle cx="271" cy="30" r="5" class="y"/><circle cx="361" cy="30" r="5" class="y"/><circle cx="391" cy="30" r="5" class="y"/><circle cx="421" cy="45" r="5" class="B"/><circle cx="451" cy="61" r="5" class="o"/>
<rect x="511" y="-3.3" width="75" height="6.7" fill="#0c6"/>
<circle cx="511" cy="0" r="5" class="G"/><circle cx="601" cy="0" r="5" class="G"/><circle cx="631" cy="0" r="5" class="G"/><circle cx="661" cy="15" r="5" class="r"/><circle cx="691" cy="30" r="5" class="y"/><circle cx="721" cy="0" r="5" class="G"/>
<rect x="751" y="11.7" width="75" height="6.7" fill="#a8004f"/>
<circle cx="751" cy="15" r="5" class="r"/><circle cx="841" cy="15" r="5" class="r"/><circle cx="871" cy="15" r="5" class="r"/><circle cx="886" cy="45" r="5" class="B"/><circle cx="931" cy="61" r="5" class="o"/>
<text class="t" x="31" y="-19.5">♩=120</text><text class="t" x="271" y="-19.5">♩=119</text><text class="t" x="511" y="-19.5">♩=120</text><text class="t" x="751" y="-19.5">♩=122</text>
<text class="m" x="31" y="-7.5">101</text><text class="m" x="271" y="-7.5">102</text><text class="m" x="511" y="-7.5">103</text><text class="m" x="751" y="-7.5">104</text>
<text class="n" x="270" y="76.5">124<tspan class="s" x="270" y="89.5">36329</tspan><tspan class="p" x="270" y="102.5">35.80%</tspan></text>
<text class="n" x="510" y="76.5">149<tspan class="s" x="510" y="89.5">38117</tspan><tspan class="p" x="510" y="102.5">23.30%</tspan></text>
<text class="n" x="750" y="76.5">165<tspan class="s" x="750" y="89.5">40097</tspan><tspan class="p" x="750" y="102.5">10.80%</tspan></text>
<text class="n" x="990" y="76.5">140<tspan class="s" x="990" y="89.5">41777</tspan><tspan class="p" x="990" y="102.5">0.00%</tspan></text>
</g>

<!-- Row 105 -->
<g transform="translate(0,3871.5)">
<rect x="31" y="0" width="450" height="61" fill="#aaaaff"/><rect x="478" y="0" width="6" height="61" fill="#ffaaaa"/>
<use xlink:href="#grid"/>
<rect x="31" y="56" width="60" height="5" fill="#b07050"/><rect x="31" y="61" width="60" height="2.5" fill="#fa0"/><rect x="151" y="26.7" width="60" height="6.7" fill="#a8a855"/>
<circle cx="31" cy="61" r="5" class="o"/><circle cx="121" cy="61" r="5" class="o"/><circle cx="151" cy="30" r="5" class="y"/><circle cx="241" cy="30" r="5" class="y"/>
<rect x="271" y="11.7" width="60" height="6.7" fill="#a8004f"/><rect x="391" y="56" width="60" height="5" fill="#b07050"/><rect x="391" y="61" width="60" height="2.5" fill="#fa0"/>
<circle cx="271" cy="15" r="5" class="r"/><circle cx="361" cy="15" r="5" class="r"/><circle cx="391" cy="61" r="5" class="o"/><circle cx="481" cy="15" r="5" class="R"/>
<rect x="511" y="57.7" width="60" height="6.7" fill="#fa0"/><rect x="631" y="26.7" width="60" height="6.7" fill="#ff0"/>
<circle cx="511" cy="61" r="5" class="O"/><circle cx="601" cy="61" r="5" class="O"/><circle cx="631" cy="30" r="5" class="Y"/><circle cx="721" cy="30" r="5" class="Y"/>
<rect x="751" y="11.7" width="60" height="6.7" fill="#f00"/><rect x="871" y="57.7" width="45" height="6.7" fill="#fa0"/><rect x="931" y="57.7" width="45" height="6.7" fill="#fa0"/>
<circle cx="751" cy="15" r="5" class="R"/><circle cx="841" cy="15" r="5" class="R"/><circle cx="871" cy="61" r="5" class="O"/><circle cx="931" cy="61" r="5" class="O"/>
<text class="t" x="31" y="-19.5">♩=119</text><text class="t" x="271" y="-19.5">♩=120</text><text class="t" x="511" y="-19.5">♩=120</text><text class="t" x="751" y="-19.5">♩=121</text>
<text class="m" x="31" y="-7.5">105</text><text class="m" x="271" y="-7.5">106</text><text class="m" x="511" y="-7.5">107</text><text class="m" x="751" y="-7.5">108</text>
<text class="n" x="270" y="76.5">124<tspan class="s" x="270" y="89.5">43265</tspan><tspan class="p" x="270" y="102.5">0.00%</tspan></text>
<text class="n" x="510" y="76.5">124<tspan class="s" x="510" y="89.5">44753</tspan><tspan class="p" x="510" y="102.5">0.00%</tspan></text>
<text class="n" x="750" y="76.5">124<tspan class="s" x="750" y="89.5">45497</tspan><tspan class="p" x="750" y="102.5">0.00%</tspan></text>
<text class="n" x="990" y="76.5">130<tspan class="s" x="990" y="89.5">46277</tspan><tspan class="p" x="990" y="102.5">0.00%</tspan></text>
</g>

<!-- Row 109 -->
<g transform="translate(0,4012.5)">
<rect x="271" y="-10" width="224" height="82" fill="#ffffd8"/><rect x="271" y="0" width="224" height="61" fill="#aaffaa"/>
<use xlink:href="#grid"/>
<rect x="31" y="11.7" width="45" height="6.7" fill="#f00"/><rect x="151" y="57.7" width="45" height="6.7" fill="#fa0"/><rect x="211" y="-3.3" width="45" height="6.7" fill="#0e0"/>
<circle cx="31" cy="15" r="5" class="R"/><circle cx="91" cy="30" r="5" class="Y"/><circle cx="121" cy="45" r="5" class="B"/><circle cx="151" cy="61" r="5" class="O"/><circle cx="211" cy="0" r="5" class="G"/>
<rect x="331" y="41.7" width="45" height="6.7" fill="#0055aa"/><rect x="391" y="26.7" width="45" height="6.7" fill="#b0ff00"/><rect x="451" y="11.7" width="44" height="6.7" fill="#a85000"/>
<use xlink:href="#st" class="st" x="271" y="61" fill="#c8a000"/><use xlink:href="#st" class="st" x="301" y="61" fill="#c8a000"/><use xlink:href="#st" class="st" x="331" y="45" fill="#0055aa"/><use xlink:href="#st" class="st" x="391" y="30" fill="#c0ff00"/><use xlink:href="#st" class="st" x="451" y="15" fill="#a85000"/>
<rect x="511" y="-3.3" width="45" height="6.7" fill="#0e0"/><rect x="631" y="11.7" width="45" height="6.7" fill="#f00"/>
<circle cx="511" cy="0" r="5" class="G"/><circle cx="571" cy="61" r="5" class="O"/><circle cx="601" cy="0" r="5" class="G"/><circle cx="631" cy="15" r="5" class="R"/><circle cx="691" cy="45" r="5" class="B"/><circle cx="721" cy="15" r="5" class="R"/>
<use xlink:href="#P" x="751"/>
<text class="t" x="31" y="-19.5">♩=119</text><text class="t" x="271" y="-19.5">♩=121</text><text class="t" x="511" y="-19.5">♩=121</text><text class="t" x="751" y="-19.5">♩=120</text>
<text class="m" x="31" y="-7.5">109</text><text class="m" x="271" y="-7.5">110</text><text class="m" x="511" y="-7.5">111</text><text class="m" x="751" y="-7.5">112</text>
<text class="n" x="270" y="76.5">152<tspan class="s" x="270" y="89.5">47189</tspan><tspan class="p" x="270" y="102.5">0.00%</tspan></text>
<text class="n" x="510" y="76.5">152<tspan class="s" x="510" y="89.5">48101</tspan><tspan class="p" x="510" y="102.5">32.65%</tspan></text>
<text class="n" x="750" y="76.5">168<tspan class="s" x="750" y="89.5">49109</tspan><tspan class="p" x="750" y="102.5">32.65%</tspan></text>
<text class="n" x="990" y="76.5">124<tspan class="s" x="990" y="89.5">49853</tspan><tspan class="p" x="990" y="102.5">32.65%</tspan></text>
</g>

<!-- Row 113 -->
<g transform="translate(0,4153.5)"><use xlink:href="#grid"/>
<use xlink:href="#P" x="31"/><use xlink:href="#P" x="271"/><use xlink:href="#P" x="511"/><use xlink:href="#P" x="751"/>
<text class="t" x="31" y="-19.5">♩=119</text><text class="t" x="271" y="-19.5">♩=121</text><text class="t" x="511" y="-19.5">♩=120</text><text class="t" x="751" y="-19.5">♩=119</text>
<text class="m" x="31" y="-7.5">113</text><text class="m" x="271" y="-7.5">114</text><text class="m" x="511" y="-7.5">115</text><text class="m" x="751" y="-7.5">116</text>
<text class="n" x="270" y="76.5">124<tspan class="s" x="270" y="89.5">50597</tspan><tspan class="p" x="270" y="102.5">32.65%</tspan></text>
<text class="n" x="510" y="76.5">124<tspan class="s" x="510" y="89.5">51341</tspan><tspan class="p" x="510" y="102.5">32.65%</tspan></text>
<text class="n" x="750" y="76.5">124<tspan class="s" x="750" y="89.5">52085</tspan><tspan class="p" x="750" y="102.5">32.65%</tspan></text>
<text class="n" x="990" y="76.5">124<tspan class="s" x="990" y="89.5">52829</tspan><tspan class="p" x="990" y="102.5">32.65%</tspan></text>
</g>

<!-- Row 117 -->
<g transform="translate(0,4294.5)">
<rect x="601" y="0" width="390" height="61" fill="#aaaaff"/><rect x="601" y="0" width="7" height="61" fill="#ffaaaa"/>
<use xlink:href="#grid"/>
<use xlink:href="#P" x="31"/><use xlink:href="#P" x="271"/>
<rect x="511" y="41.7" width="60" height="6.7" fill="#00f"/><rect x="631" y="11.7" width="45" height="6.7" fill="#a8004f"/>
<circle cx="511" cy="45" r="5" class="B"/><circle cx="601" cy="45" r="5" class="B"/><circle cx="631" cy="15" r="5" class="r"/><circle cx="691" cy="0" r="5" class="G"/><circle cx="721" cy="15" r="5" class="r"/>
<use xlink:href="#PO" x="751"/>
<text class="t" x="31" y="-19.5">♩=121</text><text class="t" x="271" y="-19.5">♩=120</text><text class="t" x="511" y="-19.5">♩=119</text><text class="t" x="751" y="-19.5">♩=121</text>
<text class="m" x="31" y="-7.5">117</text><text class="m" x="271" y="-7.5">118</text><text class="m" x="511" y="-7.5">119</text><text class="m" x="751" y="-7.5">120</text>
<text class="n" x="270" y="76.5">124<tspan class="s" x="270" y="89.5">53573</tspan><tspan class="p" x="270" y="102.5">32.65%</tspan></text>
<text class="n" x="510" y="76.5">124<tspan class="s" x="510" y="89.5">54317</tspan><tspan class="p" x="510" y="102.5">32.65%</tspan></text>
<text class="n" x="750" y="76.5">146<tspan class="s" x="750" y="89.5">55847</tspan><tspan class="p" x="750" y="102.5">25.23%</tspan></text>
<text class="n" x="990" y="76.5">124<tspan class="s" x="990" y="89.5">57335</tspan><tspan class="p" x="990" y="102.5">12.73%</tspan></text>
</g>

<!-- Row 121 -->
<g transform="translate(0,4435.5)">
<rect x="31" y="0" width="722" height="61" fill="#aaaaff"/>
<use xlink:href="#grid"/>
<use xlink:href="#PO" x="31"/><use xlink:href="#PO" x="271"/>
<rect x="511" y="41.7" width="60" height="6.7" fill="#00f"/><rect x="631" y="11.7" width="45" height="6.7" fill="#a8004f"/>
<circle cx="511" cy="45" r="5" class="B"/><circle cx="601" cy="45" r="5" class="B"/><circle cx="631" cy="15" r="5" class="r"/><circle cx="691" cy="0" r="5" class="G"/><circle cx="721" cy="15" r="5" class="r"/>
<rect x="751" y="41.7" width="240" height="6.7" fill="#00f"/><circle cx="751" cy="45" r="5" class="B"/>
<text class="t" x="31" y="-19.5">♩=120</text><text class="t" x="271" y="-19.5">♩=120</text><text class="t" x="511" y="-19.5">♩=118</text>
<text class="m" x="31" y="-7.5">121</text><text class="m" x="271" y="-7.5">122</text><text class="m" x="511" y="-7.5">123</text><text class="m" x="751" y="-7.5">124</text>
<text class="n" x="270" y="76.5">124<tspan class="s" x="270" y="89.5">58823</tspan><tspan class="p" x="270" y="102.5">0.23%</tspan></text>
<text class="n" x="510" y="76.5">124<tspan class="s" x="510" y="89.5">60311</tspan><tspan class="p" x="510" y="102.5">0.00%</tspan></text>
<text class="n" x="750" y="76.5">146<tspan class="s" x="750" y="89.5">62063</tspan><tspan class="p" x="750" y="102.5">0.00%</tspan></text>
<text class="n" x="990" y="76.5">73<tspan class="s" x="990" y="89.5">62657</tspan><tspan class="p" x="990" y="102.5">0.00%</tspan></text>
</g>

<!-- Row 125 -->
<g transform="translate(0,4576.5)"><use xlink:href="#grid3"/>
<rect x="31" y="41.7" width="480" height="6.7" fill="#00f"/>
<text class="m" x="31" y="-7.5">125</text><text class="m" x="271" y="-7.5">126</text><text class="m" x="511" y="-7.5">127</text>
<text class="n" x="270" y="76.5">48<tspan class="s" x="270" y="89.5">62945</tspan><tspan class="p" x="270" y="102.5">0.00%</tspan></text>
<text class="n" x="510" y="76.5">48<tspan class="s" x="510" y="89.5">63233</tspan><tspan class="p" x="510" y="102.5">0.00%</tspan></text>
<text class="n" x="750" y="76.5">0<tspan class="s" x="750" y="89.5">63233</tspan><tspan class="p" x="750" y="102.5">0.00%</tspan></text>
</g>
</svg>
</body></html>
